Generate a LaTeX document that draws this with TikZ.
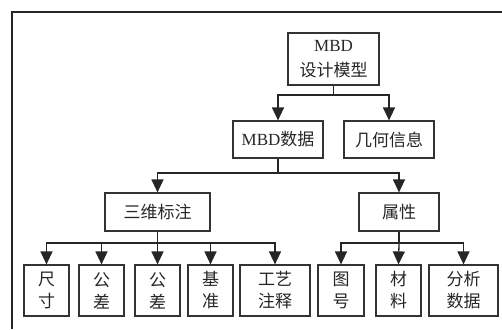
\documentclass[tikz,border=0pt]{standalone}
\usepackage{fontspec}
\setmainfont{Liberation Serif}
\newfontfamily\cjk{Noto Sans CJK SC}
\usetikzlibrary{arrows.meta}
\newcommand{\zh}[1]{{\cjk #1}}
\begin{document}
\begin{tikzpicture}[x=1pt,y=-1pt,
  box/.style={draw=black!80,line width=1.2pt,fill=white,inner sep=0pt,align=center,
    font=\fontsize{17}{22}\selectfont,text=black!85},
  link/.style={draw=black!85,line width=1.3pt},
  arr/.style={link,-{Triangle[length=13pt,width=12pt]}}]
\useasboundingbox (0,0) rectangle (502,329);
\fill[white] (0,0) rectangle (502,329);
% frame
\draw[line width=1.4pt,black!85] (12,329) -- (12,12) -- (503,12);
% nodes
\node[box,minimum width=91pt,minimum height=52pt,font=\fontsize{17}{25}\selectfont] (root) at (333.5,59) {MBD\\\zh{设计模型}};
\node[box,minimum width=90pt,minimum height=37pt] (mbd) at (278,139.5) {MBD\zh{数据}};
\node[box,minimum width=90pt,minimum height=37pt] (geo) at (389,139.5) {\zh{几何信息}};
\node[box,minimum width=105pt,minimum height=38pt] (pmi) at (157.5,212) {\zh{三维标注}};
\node[box,minimum width=80pt,minimum height=38pt] (attr) at (399,212) {\zh{属性}};
\node[box,minimum width=45pt,minimum height=51pt] (c1) at (46.5,290.5) {\zh{尺}\\\zh{寸}};
\node[box,minimum width=45pt,minimum height=51pt] (c2) at (101.5,290.5) {\zh{公}\\\zh{差}};
\node[box,minimum width=45pt,minimum height=51pt] (c3) at (157.5,290.5) {\zh{公}\\\zh{差}};
\node[box,minimum width=45pt,minimum height=51pt] (c4) at (210.5,290.5) {\zh{基}\\\zh{准}};
\node[box,minimum width=70pt,minimum height=51pt] (c5) at (275,290.5) {\zh{工艺}\\\zh{注释}};
\node[box,minimum width=46pt,minimum height=51pt] (d1) at (341,290.5) {\zh{图}\\\zh{号}};
\node[box,minimum width=45pt,minimum height=51pt] (d2) at (398.5,290.5) {\zh{材}\\\zh{料}};
\node[box,minimum width=69pt,minimum height=51pt] (d3) at (463.5,290.5) {\zh{分析}\\\zh{数据}};
% junctions
\coordinate (j0) at (333.5,95);
\coordinate (j1) at (278,173);
\coordinate (j2) at (157.5,243);
\coordinate (j3) at (399,243);
% connectors
\draw[link] (root.south) -- (j0);
\draw[arr] (j0) -| (mbd.north);
\draw[arr] (j0) -| (geo.north);
\draw[link] (mbd.south) -- (j1);
\draw[arr] (j1) -| (pmi.north);
\draw[arr] (j1) -| (attr.north);
\draw[link] (pmi.south) -- (j2);
\foreach \n in {c1,c2,c4,c5} \draw[arr] (j2) -| (\n.north);
\draw[arr] (j2) -- (c3.north);
\draw[link] (attr.south) -- (j3);
\foreach \n in {d1,d3} \draw[arr] (j3) -| (\n.north);
\draw[arr] (j3) -- (d2.north);
\end{tikzpicture}
\end{document}
